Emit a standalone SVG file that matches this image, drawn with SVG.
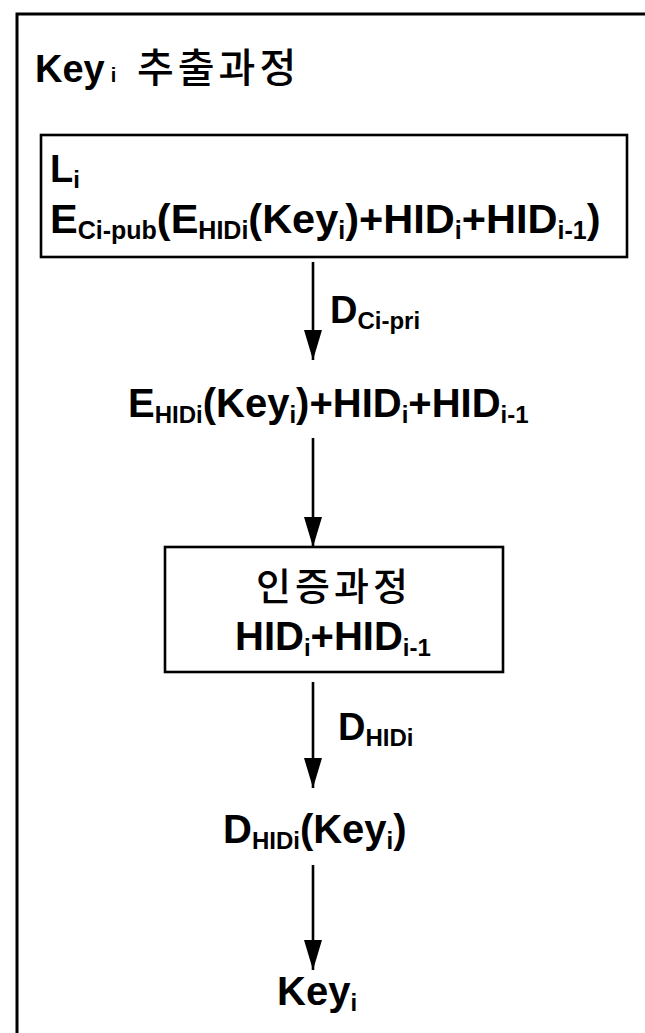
<svg xmlns="http://www.w3.org/2000/svg" width="645" height="1033" viewBox="0 0 645 1033">
  <defs>
    <style>
      .frame { fill: none; stroke: #000; stroke-width: 3; }
      .box { fill: #fff; stroke: #000; stroke-width: 2.6; }
      .edge { fill: none; stroke: #000; stroke-width: 2.6; }
      .t { font-family: "Liberation Sans", Arial, "Noto Sans CJK KR", sans-serif; font-weight: bold; fill: #000; }
      .ko { font-family: "Noto Sans CJK KR", "Liberation Sans", sans-serif; font-weight: 500; fill: #000; }
      .s { font-size: 24px; }
    </style>
    <marker id="head" markerUnits="userSpaceOnUse" markerWidth="32" markerHeight="22" refX="30" refY="11" orient="auto">
      <path d="M0,2 L30,11 L0,20 z" fill="#000"/>
    </marker>
  </defs>
  <rect width="645" height="1033" fill="#fff"/>

  <!-- outer frame, open to the right and bottom -->
  <g id="frame">
    <rect class="frame" x="17" y="14" width="700" height="1100"/>
    <text class="t" x="35" y="82" font-size="38">Key<tspan font-size="20" dx="6">i</tspan></text>
    <text class="ko" x="137" y="82" font-size="40" letter-spacing="4">추출과정</text>
  </g>

  <g id="connectors">
    <line class="edge" x1="313" y1="262" x2="313" y2="360" marker-end="url(#head)"/>
    <line class="edge" x1="313" y1="438" x2="313" y2="547" marker-end="url(#head)"/>
    <line class="edge" x1="313" y1="682" x2="313" y2="788" marker-end="url(#head)"/>
    <line class="edge" x1="313" y1="865" x2="313" y2="970" marker-end="url(#head)"/>
    <text class="t" x="330" y="323" font-size="38">D<tspan class="s" dy="6">Ci-pri</tspan></text>
    <text class="t" x="338" y="740" font-size="38">D<tspan class="s" dy="6">HIDi</tspan></text>
  </g>

  <g id="node-li">
    <rect class="box" x="41" y="135" width="586" height="122"/>
    <text class="t" x="50" y="182" font-size="38">L<tspan class="s" dy="6">i</tspan></text>
    <text class="t" x="50" y="233" font-size="41.5">E<tspan font-size="25" dy="6">Ci-pub</tspan><tspan dy="-6">(E</tspan><tspan font-size="25" dy="6">HIDi</tspan><tspan dy="-6">(Key</tspan><tspan font-size="25" dy="6">i</tspan><tspan dy="-6">)+HID</tspan><tspan font-size="25" dy="6">i</tspan><tspan dy="-6">+HID</tspan><tspan font-size="25" dy="6">i-1</tspan><tspan dy="-6">)</tspan></text>
  </g>

  <g id="node-decrypted">
    <text class="t" x="128" y="417" font-size="40">E<tspan class="s" dy="6">HIDi</tspan><tspan dy="-6">(Key</tspan><tspan class="s" dy="6">i</tspan><tspan dy="-6">)+HID</tspan><tspan class="s" dy="6">i</tspan><tspan dy="-6">+HID</tspan><tspan class="s" dy="6">i-1</tspan></text>
  </g>

  <g id="node-auth">
    <rect class="box" x="165" y="547" width="338" height="125"/>
    <text class="ko" x="334" y="600" font-size="38" text-anchor="middle" letter-spacing="4">인증과정</text>
    <text class="t" x="235" y="650" font-size="40">HID<tspan class="s" dy="6">i</tspan><tspan dy="-6">+HID</tspan><tspan class="s" dy="6">i-1</tspan></text>
  </g>

  <g id="node-dkey">
    <text class="t" x="223" y="843" font-size="40">D<tspan class="s" dy="6">HIDi</tspan><tspan dy="-6">(Key</tspan><tspan class="s" dy="6">i</tspan><tspan dy="-6">)</tspan></text>
  </g>

  <g id="node-key">
    <text class="t" x="277" y="1005" font-size="40">Key<tspan class="s" dy="6">i</tspan></text>
  </g>
</svg>
